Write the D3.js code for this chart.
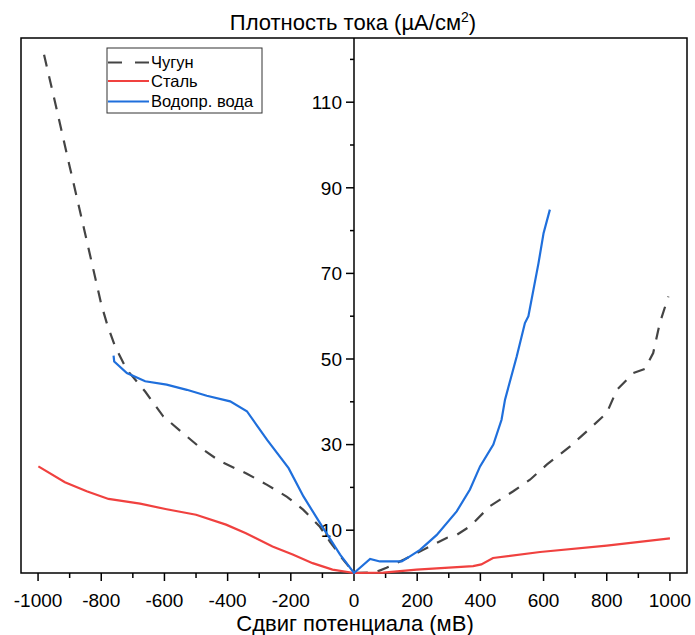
<!DOCTYPE html>
<html><head><meta charset="utf-8">
<script src="https://cdn.jsdelivr.net/npm/d3@7"></script>
<style>body{margin:0;background:#fff}svg{display:block}text{font-family:"Liberation Sans",Arial,sans-serif}</style>
</head><body><svg id="c" width="695" height="635"></svg>
<script>
const seriesNames = ["Чугун", "Сталь", "Водопр. вода"];
const castIron = [[-981,121.1],[-940,108],[-900,95],[-850,79],[-800,62.8],[-781,58],[-756,52.9],[-719,47.5],[-661,42.4],[-604,36.6],[-529,31.9],[-487,29.3],[-424,26.1],[-339,23.2],[-275,20.6],[-212,17.8],[-161,14.8],[-108,10.8],[-76,7.3],[-35,3.2],[0,0],[65,0.1],[103,1.2],[160,3.2],[219,5.4],[293,8.2],[325,8.9],[367,10.9],[430,15.6],[504,19.1],[557,21.8],[610,25.3],[684,29.6],[737,33.1],[800,37.4],[832,42.8],[884,46.7],[921,47.7],[947,51.4],[968,58.4],[995,64.6]];
const steel = [[-999,24.9],[-915,21.2],[-846,19.1],[-777,17.3],[-677,16.2],[-593,14.9],[-500,13.6],[-405,11.3],[-342,9.3],[-258,6.2],[-194,4.3],[-131,2.3],[-68,0.8],[0,0],[93,0.1],[198,0.8],[377,1.6],[403,2.0],[440,3.5],[589,4.9],[800,6.4],[1000,8.1]];
const tapWater = [[-761,50.8],[-759,49.4],[-719,46.7],[-661,44.8],[-593,44.0],[-529,42.8],[-466,41.4],[-392,40.1],[-339,37.8],[-275,31.1],[-207,24.5],[-160,17.9],[-108,11.7],[-44,4.3],[0,0],[51,3.3],[82,2.7],[151,2.7],[177,3.9],[209,5.4],[262,8.9],[325,14.4],[367,19.5],[399,24.9],[441,30.0],[467,35.8],[478,40.5],[515,50.6],[541,58.4],[552,60.0],[584,72.4],[600,79.4],[620,84.9]];
const xTicks = d3.range(-1000, 1001, 100);
const xLabelTicks = d3.range(-1000, 1001, 200);
const yTicks = d3.range(0, 121, 10);
const yLabelTicks = [10, 30, 50, 70, 90, 110];
const titleText = "Плотность тока (µA/см";
const xTitle = "Сдвиг потенциала (мВ)";

const svg = d3.select("#c");
const L = 21, R = 687, T = 38, B = 573;
const x = d3.scaleLinear().domain([-1054, 1054]).range([L, R]);
const y = d3.scaleLinear().domain([0, 125]).range([B, T]);

// frame
svg.append("rect").attr("x", L).attr("y", T).attr("width", R - L).attr("height", B - T)
  .attr("fill", "none").attr("stroke", "#000").attr("stroke-width", 1.5);

// x axis ticks
const gx = svg.append("g");
gx.selectAll("line").data(xTicks).join("line")
  .attr("x1", d => x(d)).attr("x2", d => x(d)).attr("y1", B)
  .attr("y2", d => B + (d % 200 === 0 ? 8 : 5)).attr("stroke", "#000").attr("stroke-width", 1.5);
gx.selectAll("text").data(xLabelTicks).join("text")
  .attr("x", d => x(d)).attr("y", 607).attr("text-anchor", "middle")
  .attr("font-size", 19).text(d => d);

// y axis at x=0
const x0 = x(0);
svg.append("line").attr("x1", x0).attr("x2", x0).attr("y1", T).attr("y2", B).attr("stroke", "#000").attr("stroke-width", 1.5);
const gy = svg.append("g");
gy.selectAll("line").data(yTicks.filter(d => d > 0)).join("line")
  .attr("x1", x0).attr("x2", d => x0 - (yLabelTicks.includes(d) ? 8 : 4))
  .attr("y1", d => y(d)).attr("y2", d => y(d)).attr("stroke", "#000").attr("stroke-width", 1.5);
gy.selectAll("text").data(yLabelTicks).join("text")
  .attr("x", x0 - 12).attr("y", d => y(d)).attr("dy", "0.36em").attr("text-anchor", "end")
  .attr("font-size", 19).text(d => d);

// title
const tt = svg.append("text").attr("x", 353).attr("y", 29.5).attr("text-anchor", "middle").attr("font-size", 22);
tt.append("tspan").text(titleText);
tt.append("tspan").attr("dy", -8).attr("font-size", 14).text("2");
tt.append("tspan").attr("dy", 8).text(")");
svg.append("text").attr("x", 355).attr("y", 631).attr("text-anchor", "middle").attr("font-size", 22).text(xTitle);

// lines
const line = d3.line().x(d => x(d[0])).y(d => y(d[1]));
const styles = [
  {data: castIron, color: "#444444", dash: "12,10"},
  {data: steel, color: "#f0413f", dash: null},
  {data: tapWater, color: "#1f6fdc", dash: null}
];
styles.forEach(s => {
  svg.append("path").datum(s.data).attr("d", line).attr("fill", "none")
    .attr("stroke", s.color).attr("stroke-width", 2.2).attr("stroke-dasharray", s.dash);
});

// legend
const lg = svg.append("g");
lg.append("rect").attr("x", 107).attr("y", 48).attr("width", 155).attr("height", 65)
  .attr("fill", "#fff").attr("stroke", "#333").attr("stroke-width", 1);
const ly = [62.5, 81, 101.5];
styles.forEach((s, i) => {
  lg.append("line").attr("x1", 108).attr("x2", 149).attr("y1", ly[i]).attr("y2", ly[i])
    .attr("stroke", s.color).attr("stroke-width", 2.2).attr("stroke-dasharray", s.dash ? "14,13" : null);
  lg.append("text").attr("x", 151).attr("y", ly[i]).attr("dy", "0.35em").attr("font-size", 16.5).text(seriesNames[i]);
});
</script></body></html>
